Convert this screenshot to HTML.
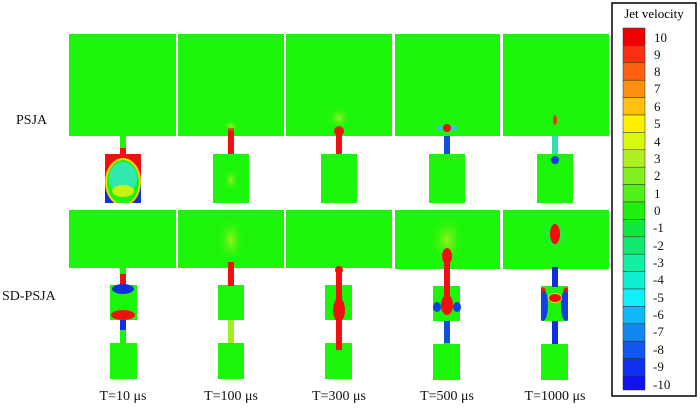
<!DOCTYPE html>
<html><head><meta charset="utf-8"><style>
html,body{margin:0;padding:0;background:#fff;}
svg{display:block;font-family:"Liberation Serif",serif;}
</style></head><body>
<svg width="700" height="408" viewBox="0 0 700 408" xmlns="http://www.w3.org/2000/svg">
<defs>
<radialGradient id="glowY"><stop offset="0" stop-color="#b8f020" stop-opacity=".8"/><stop offset="1" stop-color="#1cf50a" stop-opacity="0"/></radialGradient>
<radialGradient id="glowC"><stop offset="0" stop-color="#20e8a0" stop-opacity=".7"/><stop offset="1" stop-color="#1cf50a" stop-opacity="0"/></radialGradient>
<clipPath id="c1"><rect x="105" y="154" width="36" height="49"/></clipPath>
<clipPath id="c5"><rect x="541" y="286" width="27" height="35"/></clipPath>
</defs>
<g fill="#1cf50a">
<rect x="69" y="34" width="107" height="102"/>
<rect x="178" y="34" width="106" height="102"/>
<rect x="286" y="34" width="106" height="102"/>
<rect x="395" y="34" width="105" height="102"/>
<rect x="503" y="34" width="106" height="102"/>
<rect x="120" y="136" width="6" height="18"/>
<rect x="228" y="136" width="6" height="18"/>
<rect x="336" y="136" width="6" height="18"/>
<rect x="444" y="136" width="6" height="18"/>
<rect x="552" y="136" width="6" height="18"/>
<rect x="105" y="154" width="36" height="49"/>
<rect x="213" y="154" width="36" height="49"/>
<rect x="321" y="154" width="36" height="49"/>
<rect x="429" y="154" width="36" height="49"/>
<rect x="537" y="154" width="36" height="49"/>
<rect x="69" y="210" width="107" height="58"/>
<rect x="178" y="210" width="106" height="58"/>
<rect x="286" y="210" width="106" height="58"/>
<rect x="395" y="210" width="105" height="59"/>
<rect x="503" y="210" width="106" height="59"/>
<rect x="120" y="268" width="6" height="76"/>
<rect x="228" y="268" width="6" height="76"/>
<rect x="336" y="268" width="6" height="76"/>
<rect x="444" y="268" width="6" height="76"/>
<rect x="552" y="268" width="6" height="76"/>
<rect x="110" y="285" width="27" height="35"/>
<rect x="218" y="285" width="26" height="35"/>
<rect x="325" y="285" width="27" height="35"/>
<rect x="433" y="286" width="27" height="35"/>
<rect x="541" y="286" width="27" height="35"/>
<rect x="110" y="343" width="27" height="36"/>
<rect x="218" y="343" width="26" height="36"/>
<rect x="325" y="343" width="27" height="36"/>
<rect x="433" y="344" width="27" height="36"/>
<rect x="541" y="344" width="27" height="36"/>
</g>
<!-- col1 row1 chamber -->
<rect x="120" y="148" width="6" height="6" fill="#f01010"/>
<g clip-path="url(#c1)">
<rect x="105" y="154" width="36" height="49" fill="#f01010"/>
<rect x="105" y="182" width="36" height="21" fill="#1030e0"/>
<ellipse cx="123" cy="182" rx="18" ry="24" fill="#ffd000"/>
<ellipse cx="123" cy="182" rx="16" ry="22" fill="#1cf50a"/>
<ellipse cx="123" cy="178" rx="14" ry="16" fill="#30e8b0"/>
<ellipse cx="123" cy="191" rx="11" ry="6" fill="#c8f010"/>
</g>
<rect x="228" y="128" width="6" height="26" fill="#f01010"/>
<ellipse cx="231" cy="126" rx="8" ry="6" fill="url(#glowY)"/>
<ellipse cx="231" cy="180" rx="8" ry="12" fill="url(#glowY)"/>
<rect x="336" y="134" width="6" height="20" fill="#f01010"/>
<circle cx="339" cy="131" r="5" fill="#f01010"/>
<circle cx="339" cy="118" r="12" fill="url(#glowY)"/>
<rect x="444" y="136" width="6" height="18" fill="#1050e0"/>
<circle cx="447" cy="128" r="4" fill="#f01010"/>
<circle cx="440" cy="128" r="3" fill="#30c8e0"/><circle cx="454" cy="128" r="3" fill="#30c8e0"/>
<rect x="552" y="136" width="6" height="18" fill="#30e0b0"/>
<ellipse cx="555" cy="120" rx="2" ry="5" fill="#f03010"/>
<circle cx="555" cy="160" r="4" fill="#1040e0"/>
<!-- row2 -->
<rect x="120" y="274" width="6" height="11" fill="#f01010"/>
<ellipse cx="123" cy="289" rx="11" ry="5" fill="#1030e0"/>
<ellipse cx="123" cy="315" rx="12" ry="5" fill="#f01010"/>
<rect x="120" y="320" width="6" height="10" fill="#1030e0"/>
<ellipse cx="231" cy="240" rx="14" ry="24" fill="url(#glowY)"/>
<rect x="228" y="262" width="6" height="24" fill="#f01010"/>
<rect x="228" y="320" width="6" height="23" fill="#a0f020"/>
<rect x="336" y="270" width="6" height="80" fill="#f01010"/>
<ellipse cx="339" cy="310" rx="6" ry="12" fill="#f01010"/>
<circle cx="339" cy="270" r="4" fill="#f01010"/>
<ellipse cx="447" cy="240" rx="18" ry="26" fill="url(#glowY)"/>
<rect x="444" y="260" width="6" height="50" fill="#f01010"/>
<ellipse cx="447" cy="256" rx="5" ry="8" fill="#f01010"/>
<ellipse cx="447" cy="305" rx="6" ry="10" fill="#f01010"/>
<ellipse cx="437" cy="307" rx="4" ry="5" fill="#1040e0"/><ellipse cx="457" cy="307" rx="4" ry="5" fill="#1040e0"/>
<rect x="444" y="321" width="6" height="22" fill="#1050e0"/>
<ellipse cx="555" cy="234" rx="18" ry="18" fill="url(#glowC)"/>
<ellipse cx="555" cy="234" rx="5" ry="10" fill="#f01010"/>
<rect x="552" y="267" width="6" height="20" fill="#1030e0"/>
<g clip-path="url(#c5)">
<ellipse cx="543" cy="305" rx="5" ry="16" fill="#1040e0"/>
<ellipse cx="566" cy="305" rx="5" ry="16" fill="#1040e0"/>
<circle cx="543" cy="290" r="2.5" fill="#f01010"/><circle cx="566" cy="290" r="2.5" fill="#f01010"/>
<ellipse cx="555" cy="298" rx="7" ry="5" fill="#ffd000"/>
<ellipse cx="555" cy="298" rx="6" ry="4" fill="#f01010"/>
</g>
<rect x="552" y="321" width="6" height="23" fill="#1030e0"/>
<g font-size="14" fill="#111">
<text x="16" y="124">PSJA</text>
<text x="2" y="300">SD-PSJA</text>
<text x="123" y="400" text-anchor="middle">T=10 μs</text>
<text x="231" y="400" text-anchor="middle">T=100 μs</text>
<text x="339" y="400" text-anchor="middle">T=300 μs</text>
<text x="447" y="400" text-anchor="middle">T=500 μs</text>
<text x="555" y="400" text-anchor="middle">T=1000 μs</text>
</g>
<rect x="612" y="3" width="84" height="393" fill="#fff" stroke="#000" stroke-width="1.5"/>
<text x="654" y="18" font-size="13" text-anchor="middle">Jet velocity</text>
<g stroke="#333" stroke-width=".5">
<rect x="623" y="28" width="22" height="17.4" fill="#f00000"/>
<rect x="623" y="45.4" width="22" height="17.4" fill="#f83010"/>
<rect x="623" y="62.8" width="22" height="17.4" fill="#ff6010"/>
<rect x="623" y="80.2" width="22" height="17.4" fill="#ff9010"/>
<rect x="623" y="97.6" width="22" height="17.4" fill="#ffc010"/>
<rect x="623" y="115" width="22" height="17.4" fill="#fff000"/>
<rect x="623" y="132.4" width="22" height="17.4" fill="#d8f810"/>
<rect x="623" y="149.8" width="22" height="17.4" fill="#b0f020"/>
<rect x="623" y="167.2" width="22" height="17.4" fill="#80f020"/>
<rect x="623" y="184.6" width="22" height="17.4" fill="#50f018"/>
<rect x="623" y="202" width="22" height="17.4" fill="#20f010"/>
<rect x="623" y="219.4" width="22" height="17.4" fill="#10e840"/>
<rect x="623" y="236.8" width="22" height="17.4" fill="#10e870"/>
<rect x="623" y="254.2" width="22" height="17.4" fill="#10f0a0"/>
<rect x="623" y="271.6" width="22" height="17.4" fill="#10f0d0"/>
<rect x="623" y="289" width="22" height="17.4" fill="#10f0f8"/>
<rect x="623" y="306.4" width="22" height="17.4" fill="#10b8f8"/>
<rect x="623" y="323.8" width="22" height="17.4" fill="#1088f0"/>
<rect x="623" y="341.2" width="22" height="17.4" fill="#1058f0"/>
<rect x="623" y="358.6" width="22" height="17.4" fill="#1030f0"/>
<rect x="623" y="376" width="22" height="14" fill="#1010f0"/>
</g>
<g font-size="13" fill="#111">
<text x="654" y="42">10</text><text x="654" y="59">9</text><text x="654" y="76">8</text><text x="654" y="93">7</text><text x="654" y="111">6</text><text x="654" y="128">5</text><text x="654" y="146">4</text><text x="654" y="163">3</text><text x="654" y="180">2</text><text x="654" y="198">1</text><text x="654" y="215">0</text><text x="653" y="232">-1</text><text x="653" y="250">-2</text><text x="653" y="267">-3</text><text x="653" y="284">-4</text><text x="653" y="302">-5</text><text x="653" y="319">-6</text><text x="653" y="336">-7</text><text x="653" y="354">-8</text><text x="653" y="371">-9</text><text x="653" y="389">-10</text>
</g>
</svg>
</body></html>
